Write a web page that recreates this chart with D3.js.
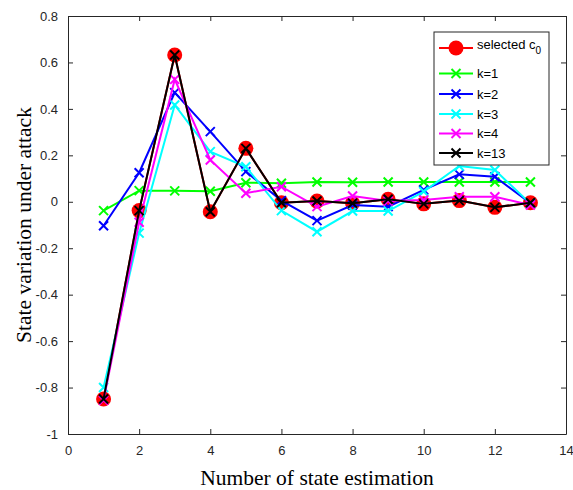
<!DOCTYPE html>
<html>
<head>
<meta charset="utf-8">
<script src="https://cdn.jsdelivr.net/npm/d3@7"></script>
<style>
  body { margin: 0; background: #fff; }
  svg { display: block; }
</style>
</head>
<body>
<svg id="chart" width="573" height="490"></svg>
<script>
// data
var steps = [1, 2, 3, 4, 5, 6, 7, 8, 9, 10, 11, 12, 13];
var xTicks = [0, 2, 4, 6, 8, 10, 12, 14];
var yTicks = [-1, -0.8, -0.6, -0.4, -0.2, 0, 0.2, 0.4, 0.6, 0.8];

var selectedC0 = [-0.849, -0.038, 0.632, -0.043, 0.23, -0.004, 0.003, -0.006, 0.011, -0.009, 0.005, -0.024, -0.004];
var k1  = [-0.038, 0.048, 0.047, 0.045, 0.082, 0.08, 0.085, 0.084, 0.085, 0.085, 0.085, 0.085, 0.085];
var k2  = [-0.103, 0.125, 0.47, 0.302, 0.13, 0.005, -0.081, -0.014, -0.021, 0.051, 0.118, 0.108, -0.006];
var k3  = [-0.80, -0.135, 0.417, 0.216, 0.151, -0.038, -0.129, -0.04, -0.04, 0.044, 0.154, 0.137, -0.008];
var k4  = [-0.855, -0.088, 0.527, 0.18, 0.037, 0.065, -0.021, 0.025, 0.003, 0.008, 0.022, 0.022, -0.014];
var k13 = [-0.849, -0.038, 0.632, -0.043, 0.23, -0.004, 0.003, -0.006, 0.011, -0.009, 0.005, -0.024, -0.004];

var svg = d3.select("#chart"),
    margin = {top: 16, right: 7, bottom: 56, left: 68},
    width = +svg.attr("width") - margin.left - margin.right,
    height = +svg.attr("height") - margin.top - margin.bottom,
    g = svg.append("g").attr("transform", "translate(" + margin.left + "," + margin.top + ")");

var x = d3.scaleLinear().domain([0, 14]).range([0, width]);
var y = d3.scaleLinear().domain([-1, 0.8]).range([height, 0]);

var axisColor = "#262626";
var tickFont = "'Liberation Sans', Arial, sans-serif";
var labelFont = "'Liberation Serif', 'Times New Roman', serif";

var series = [
  {name: "selected", values: selectedC0, color: "#ff0000", marker: "dot"},
  {name: "k=1", values: k1, color: "#00ff00", marker: "x"},
  {name: "k=2", values: k2, color: "#0000ff", marker: "x"},
  {name: "k=3", values: k3, color: "#00ffff", marker: "x"},
  {name: "k=4", values: k4, color: "#ff00ff", marker: "x"},
  {name: "k=13", values: k13, color: "#000000", marker: "x"}
];

// axes, matlab style: box on, ticks inward
function styleAxis(sel) {
  sel.selectAll("path").attr("stroke", axisColor).attr("stroke-width", 1);
  sel.selectAll("line").attr("stroke", axisColor);
  sel.selectAll("text").attr("fill", axisColor)
    .attr("font-family", tickFont).attr("font-size", 13);
}

// plain hyphen for negatives, like matlab
var plain = function(d) { return String(d); };

g.append("g")
  .attr("transform", "translate(0," + height + ")")
  .call(d3.axisBottom(x).tickValues(xTicks).tickFormat(plain).tickSizeInner(-5).tickSizeOuter(0).tickPadding(12))
  .call(styleAxis);

g.append("g")
  .call(d3.axisLeft(y).tickValues(yTicks).tickFormat(plain).tickSizeInner(-5).tickSizeOuter(0).tickPadding(10))
  .call(styleAxis);

g.append("g")
  .call(d3.axisTop(x).tickValues(xTicks).tickSizeInner(-5).tickSizeOuter(0).tickFormat(""))
  .call(styleAxis);

g.append("g")
  .attr("transform", "translate(" + width + ",0)")
  .call(d3.axisRight(y).tickValues(yTicks).tickSizeInner(-5).tickSizeOuter(0).tickFormat(""))
  .call(styleAxis);

var line = d3.line()
  .x(function(d, i) { return x(steps[i]); })
  .y(function(d) { return y(d); });

function drawX(sel, size) {
  sel.append("path")
    .attr("d", "M" + (-size) + "," + (-size) + "L" + size + "," + size +
               "M" + (-size) + "," + size + "L" + size + "," + (-size))
    .attr("stroke-width", 2)
    .attr("fill", "none");
}

series.forEach(function(s) {
  var sg = g.append("g");
  sg.append("path")
    .datum(s.values)
    .attr("d", line)
    .attr("fill", "none")
    .attr("stroke", s.color)
    .attr("stroke-width", 2);

  var pts = sg.selectAll("g.pt")
    .data(s.values)
    .enter().append("g")
    .attr("class", "pt")
    .attr("transform", function(d, i) { return "translate(" + x(steps[i]) + "," + y(d) + ")"; });

  if (s.marker === "dot") {
    pts.append("circle").attr("r", 7.5).attr("fill", s.color);
  } else {
    pts.attr("stroke", s.color).call(drawX, 4.5);
  }
});

// axis labels
svg.append("text")
  .attr("x", margin.left + width / 2)
  .attr("y", 485)
  .attr("text-anchor", "middle")
  .attr("font-family", labelFont)
  .attr("font-size", 21.5)
  .attr("fill", "#000")
  .text("Number of state estimation");

svg.append("text")
  .attr("transform", "translate(31," + (margin.top + height / 2) + ") rotate(-90)")
  .attr("text-anchor", "middle")
  .attr("font-family", labelFont)
  .attr("font-size", 21.5)
  .attr("fill", "#000")
  .text("State variation under attack");

// legend
var legend = g.append("g")
  .attr("transform", "translate(" + (434 - margin.left) + "," + (32 - margin.top) + ")");

legend.append("rect")
  .attr("width", 115)
  .attr("height", 133)
  .attr("fill", "#fff")
  .attr("stroke", axisColor)
  .attr("stroke-width", 1);

var rowY = [16, 41.5, 62, 82, 101.5, 121];

var item = legend.selectAll("g.item")
  .data(series)
  .enter().append("g")
  .attr("class", "item")
  .attr("transform", function(d, i) { return "translate(0," + rowY[i] + ")"; });

item.append("line")
  .attr("x1", 5).attr("x2", 39)
  .attr("stroke", function(d) { return d.color; })
  .attr("stroke-width", 2);

item.each(function(d) {
  var mk = d3.select(this).append("g").attr("transform", "translate(22,0)");
  if (d.marker === "dot") {
    mk.append("circle").attr("r", 7.5).attr("fill", d.color);
  } else {
    mk.attr("stroke", d.color).call(drawX, 4.5);
  }
});

var labels = item.append("text")
  .attr("x", 43)
  .attr("dy", "0.35em")
  .attr("font-family", tickFont)
  .attr("font-size", 13)
  .attr("fill", "#000");

labels.filter(function(d) { return d.marker !== "dot"; })
  .text(function(d) { return d.name; });

var selLabel = labels.filter(function(d) { return d.marker === "dot"; });
selLabel.attr("dy", "0.1em");
selLabel.append("tspan").text("selected c");
selLabel.append("tspan").attr("dy", "0.45em").attr("font-size", 10).text("0");
</script>
</body>
</html>
